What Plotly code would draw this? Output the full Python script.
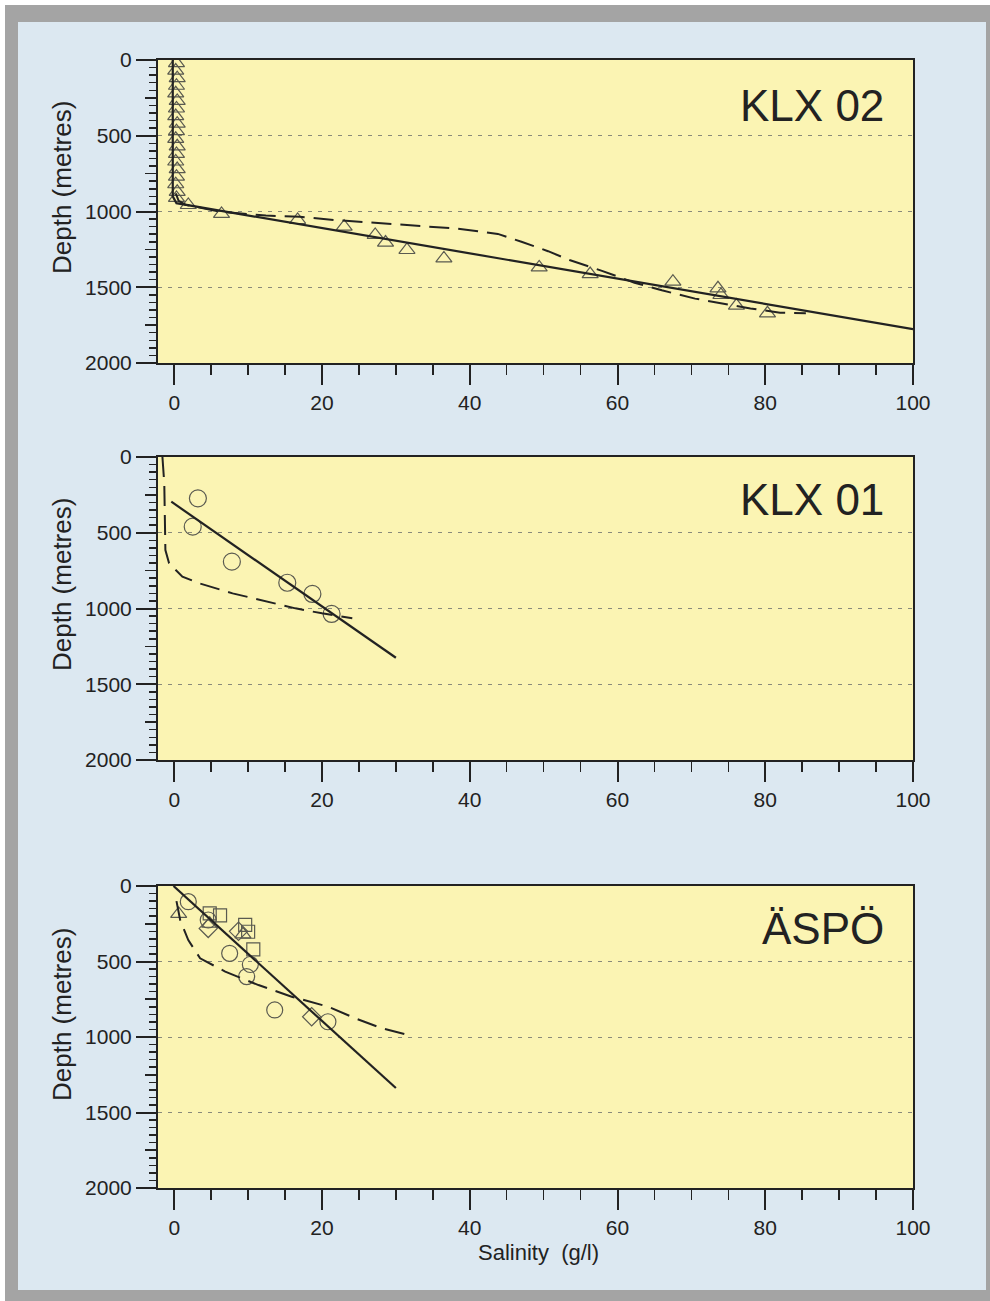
import plotly.graph_objects as go

# ---------------- data ----------------
# KLX 02
klx02_tri_x = [0.3, 0.2, 0.4, 0.3, 0.2, 0.4, 0.3, 0.2, 0.4, 0.3, 0.2, 0.4, 0.3, 0.2, 0.4, 0.3, 0.2, 0.4, 0.3,
               1.9, 6.4, 16.7, 23.0, 27.2, 28.6, 31.5, 36.5, 49.4, 56.3, 67.5, 73.6, 74.0, 76.1, 80.3]
klx02_tri_y = [20, 70, 120, 170, 220, 270, 320, 370, 420, 470, 520, 570, 620, 670, 720, 770, 820, 870, 910,
               957, 1016, 1056, 1100, 1155, 1205, 1254, 1310, 1369, 1413, 1463, 1507, 1551, 1621, 1672]
klx02_fit_x = [-0.2, -0.2, 0.3, 1.5, 100]
klx02_fit_y = [0, 900, 945, 955, 1777]
klx02_model_x = [0.2, 0.6, 1.5, 6.0, 12.4, 17.0, 21.7, 26.9, 30.5, 35.2, 38.0, 41.1, 43.8, 47.0, 50.6,
                 53.5, 57.8, 62.3, 66.0, 70.5, 74.5, 78.0, 82.0, 85.5]
klx02_model_y = [880, 930, 955, 1000, 1027, 1035, 1056, 1074, 1087, 1100, 1112, 1130, 1148, 1200, 1262,
                 1320, 1390, 1470, 1520, 1575, 1610, 1640, 1668, 1672]

# KLX 01
klx01_circ_x = [3.2, 2.5, 7.8, 15.3, 18.7, 21.3]
klx01_circ_y = [273, 460, 691, 830, 904, 1036]
klx01_fit_x = [-0.4, 30.0]
klx01_fit_y = [295, 1325]
klx01_model_x = [-1.6, -1.35, -1.2, -0.7, 1.1, 3.4, 7.9, 12.4, 16.4, 20.0, 24.1]
klx01_model_y = [0, 174, 614, 702, 790, 834, 900, 955, 999, 1032, 1065]

# ÄSPÖ
aspo_fit_x = [-0.1, 30.0]
aspo_fit_y = [0, 1338]
aspo_model_x = [0.3, 0.8, 1.9, 3.5, 6.9, 11.4, 15.9, 20.8, 24.5, 28.1, 31.7]
aspo_model_y = [100, 225, 358, 479, 567, 656, 733, 799, 876, 942, 987]
aspo_tri_x = [0.6, 4.8, 9.3]
aspo_tri_y = [185, 250, 320]
aspo_circ_x = [1.9, 4.6, 7.5, 10.3, 9.8, 13.6, 20.8]
aspo_circ_y = [104, 225, 446, 520, 600, 821, 899]
aspo_sq_x = [4.8, 6.2, 9.6, 10.0, 10.7]
aspo_sq_y = [181, 195, 258, 303, 420]
aspo_dia_x = [4.6, 8.7, 18.6]
aspo_dia_y = [281, 300, 866]

panel_titles = ["KLX 02", "KLX 01", "ÄSPÖ"]
x_title = "Salinity  (g/l)"
y_title = "Depth (metres)"

# ---------------- layout geometry ----------------
W, H = 990, 1301
x_dom = [158 / W, 913 / W]
panels_px = [(60, 363), (457, 760), (886, 1188)]
y_doms = [[1 - b / H, 1 - t / H] for t, b in panels_px]

INK = "#222222"
MK = "#5a5a50"
YELLOW = "#fbf4b3"
BLUE = "#dce8f1"
GRAY = "#a4a4a4"

fig = go.Figure()

def ax(i):
    return ("x" if i == 1 else f"x{i}"), ("y" if i == 1 else f"y{i}")

def line(i, xs, ys, dash=None):
    xa, ya = ax(i)
    fig.add_trace(go.Scatter(x=xs, y=ys, mode="lines", xaxis=xa, yaxis=ya,
                             line=dict(color=INK, width=2.2 if dash is None else 2, dash=dash),
                             showlegend=False, hoverinfo="skip"))

def markers(i, xs, ys, symbol, size):
    xa, ya = ax(i)
    fig.add_trace(go.Scatter(x=xs, y=ys, mode="markers", xaxis=xa, yaxis=ya,
                             marker=dict(symbol=symbol, size=size, color=MK,
                                         line=dict(color=MK, width=1.2)),
                             showlegend=False, hoverinfo="skip"))

DASH = "20px,9px"
# panel 1
markers(1, klx02_tri_x, klx02_tri_y, "triangle-up-open", 14)
line(1, klx02_model_x, klx02_model_y, DASH)
line(1, klx02_fit_x, klx02_fit_y)
# panel 2
markers(2, klx01_circ_x, klx01_circ_y, "circle-open", 17)
line(2, klx01_model_x, klx01_model_y, DASH)
line(2, klx01_fit_x, klx01_fit_y)
# panel 3
markers(3, aspo_tri_x, aspo_tri_y, "triangle-up-open", 14)
markers(3, aspo_circ_x, aspo_circ_y, "circle-open", 16)
markers(3, aspo_sq_x, aspo_sq_y, "square-open", 13)
markers(3, aspo_dia_x, aspo_dia_y, "diamond-open", 14)
line(3, aspo_model_x, aspo_model_y, DASH)
line(3, aspo_fit_x, aspo_fit_y)

# dummy traces so medium-tick overlay axes render
for i in range(1, 4):
    xa, _ = ax(i)
    fig.add_trace(go.Scatter(x=[None], y=[None], xaxis=xa, yaxis=f"y{i+3}",
                             showlegend=False, hoverinfo="skip"))

layout = dict(width=W, height=H, margin=dict(l=0, r=0, t=0, b=0, pad=0, autoexpand=False),
              paper_bgcolor="white", plot_bgcolor="rgba(0,0,0,0)",
              font=dict(family="Liberation Sans, Arial, sans-serif", color=INK),
              showlegend=False)

for i in range(1, 4):
    xk = "xaxis" if i == 1 else f"xaxis{i}"
    yk = "yaxis" if i == 1 else f"yaxis{i}"
    xa, ya = ax(i)
    layout[xk] = dict(domain=x_dom, range=[-2.2, 100], anchor=ya, automargin=False,
                      tickmode="linear", tick0=0, dtick=20,
                      ticks="outside", ticklen=20, tickwidth=2, tickcolor=INK,
                      minor=dict(ticks="outside", ticklen=10, tickwidth=1.6, tickcolor=INK,
                                 tick0=0, dtick=5, showgrid=False),
                      showline=True, linewidth=2, linecolor=INK, mirror=True,
                      showgrid=False, zeroline=False,
                      tickfont=dict(size=21, color=INK))
    layout[yk] = dict(domain=y_doms[i - 1], range=[2000, 0], anchor=xa, automargin=False,
                      tickmode="linear", tick0=0, dtick=500,
                      ticks="outside", ticklen=20, tickwidth=2, tickcolor=INK,
                      minor=dict(ticks="outside", ticklen=7, tickwidth=1.5, tickcolor=INK,
                                 tick0=0, dtick=50, showgrid=False),
                      showline=True, linewidth=2, linecolor=INK, mirror=True,
                      showgrid=True, gridcolor="#8a8a7a", gridwidth=1, griddash="4px,6px",
                      zeroline=False,
                      tickfont=dict(size=21, color=INK))
    layout[f"yaxis{i+3}"] = dict(overlaying=ya, anchor=xa, side="left", range=[2000, 0],
                                  automargin=False,
                                  tickmode="array", tickvals=[250, 750, 1250, 1750],
                                  ticks="outside", ticklen=12, tickwidth=1.6, tickcolor=INK,
                                  showticklabels=False, showgrid=False, zeroline=False,
                                  showline=False)

shapes = [
    dict(type="rect", xref="paper", yref="paper", x0=5 / W, x1=1, y0=0, y1=1 - 5 / H,
         fillcolor=GRAY, line=dict(width=0), layer="below"),
    dict(type="rect", xref="paper", yref="paper", x0=18 / W, x1=986 / W, y0=1 - 1290 / H, y1=1 - 22 / H,
         fillcolor=BLUE, line=dict(width=0), layer="below"),
]
for yd in y_doms:
    shapes.append(dict(type="rect", xref="paper", yref="paper", x0=x_dom[0], x1=x_dom[1],
                       y0=yd[0], y1=yd[1], fillcolor=YELLOW, line=dict(width=0), layer="below"))
layout["shapes"] = shapes

title_y_px = [105, 500, 928]
ytitle_y_px = [188, 585, 1015]
ann = []
for t, ty, yy in zip(panel_titles, title_y_px, ytitle_y_px):
    ann.append(dict(text=t, xref="paper", yref="paper", x=886 / W, y=1 - ty / H,
                    xanchor="right", yanchor="middle", showarrow=False,
                    font=dict(size=44, color=INK)))
    ann.append(dict(text=y_title, xref="paper", yref="paper", x=62 / W, y=1 - yy / H,
                    xanchor="center", yanchor="middle", showarrow=False, textangle=-90,
                    font=dict(size=26, color=INK)))
ann.append(dict(text=x_title, xref="paper", yref="paper", x=538 / W, y=1 - 1252 / H,
                xanchor="center", yanchor="middle", showarrow=False,
                font=dict(size=22, color=INK)))
layout["annotations"] = ann

fig.update_layout(**layout)

post = (
    "document.documentElement.style.margin='0px';"
    "document.body.style.margin='0px';"
)
fig.write_html("out.html", config={"displayModeBar": False, "staticPlot": True},
               post_script=post)
